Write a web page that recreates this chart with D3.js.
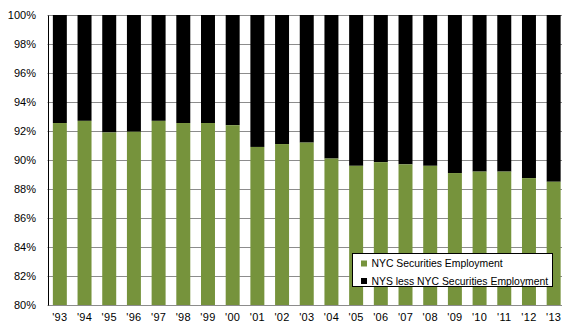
<!DOCTYPE html>
<html>
<head>
<meta charset="utf-8">
<script src="https://cdn.jsdelivr.net/npm/d3@7"></script>
<style>
  body { margin: 0; background: #fff; }
  svg { display: block; font-family: "Liberation Sans", Arial, sans-serif; }
</style>
</head>
<body>
<div id="chart"></div>
<script>
const years = ["'93","'94","'95","'96","'97","'98","'99","'00","'01","'02","'03","'04","'05","'06","'07","'08","'09","'10","'11","'12","'13"];
// NYC share of NYS securities employment, percent
const nycShare = [92.55, 92.7, 91.9, 91.95, 92.7, 92.55, 92.55, 92.4, 90.9, 91.1, 91.2, 90.1, 89.6, 89.85, 89.7, 89.6, 89.1, 89.2, 89.2, 88.75, 88.5];
const yTicks = [80, 82, 84, 86, 88, 90, 92, 94, 96, 98, 100];
const seriesNames = ['NYC Securities Employment', 'NYS less NYC Securities Employment'];
const seriesColors = ['#76933c', '#000000'];

const w = 562, h = 326;
const plotLeft = 47.5, plotRight = 566, plotTop = 15, plotBottom = 305;

const svg = d3.select('#chart').append('svg')
    .attr('width', w)
    .attr('height', h);

const xScale = d3.scaleBand()
    .domain(years)
    .range([plotLeft, plotRight])
    .paddingInner(0.434)
    .paddingOuter(0.217);

const yScale = d3.scaleLinear()
    .domain([80, 100])
    .range([plotBottom, plotTop]);

// gridlines
svg.append('g')
    .selectAll('line')
    .data(yTicks)
    .enter()
    .append('line')
    .attr('x1', plotLeft)
    .attr('x2', w)
    .attr('y1', d => Math.round(yScale(d)) + 0.5)
    .attr('y2', d => Math.round(yScale(d)) + 0.5)
    .attr('stroke', '#8c8c8c')
    .attr('stroke-width', 1);

// black part (rest of NYS) from top down to green
svg.append('g')
    .selectAll('rect')
    .data(years)
    .enter()
    .append('rect')
    .attr('x', d => xScale(d))
    .attr('y', yScale(100))
    .attr('width', xScale.bandwidth())
    .attr('height', (d, i) => yScale(nycShare[i]) - yScale(100))
    .attr('fill', seriesColors[1]);

svg.append('g')
    .selectAll('rect')
    .data(years)
    .enter()
    .append('rect')
    .attr('x', d => xScale(d))
    .attr('y', (d, i) => yScale(nycShare[i]))
    .attr('width', xScale.bandwidth())
    .attr('height', (d, i) => yScale(80) - yScale(nycShare[i]))
    .attr('fill', seriesColors[0]);

// left axis
const yAxis = d3.axisLeft(yScale)
    .tickValues(yTicks)
    .tickSize(0)
    .tickPadding(12)
    .tickFormat(d => d + '%');

svg.append('g')
    .attr('transform', 'translate(' + (plotLeft + 0.5) + ',0)')
    .call(yAxis)
    .call(g => g.select('.domain').attr('stroke', '#000'))
    .call(g => g.selectAll('text').attr('font-size', 11).attr('fill', '#000')
        .attr('font-family', '"Liberation Sans", Arial, sans-serif'));

// bottom axis labels
const xAxis = d3.axisBottom(xScale).tickSize(0).tickPadding(8);
svg.append('g')
    .attr('transform', 'translate(0,' + plotBottom + ')')
    .call(xAxis)
    .call(g => g.select('.domain').remove())
    .call(g => g.selectAll('text').attr('font-size', 11).attr('fill', '#000')
        .attr('letter-spacing', 0.3)
        .attr('font-family', '"Liberation Sans", Arial, sans-serif'));

// legend
const legend = svg.append('g').attr('transform', 'translate(352.5,253.5)');
legend.append('rect')
    .attr('width', 200)
    .attr('height', 33)
    .attr('fill', '#fff')
    .attr('stroke', '#000')
    .attr('stroke-width', 1);

const items = legend.selectAll('g.item')
    .data(seriesNames)
    .enter()
    .append('g')
    .attr('class', 'item')
    .attr('transform', (d, i) => 'translate(0,' + (10 + i * 17.5) + ')');

items.append('rect')
    .attr('x', 8.5)
    .attr('y', -3)
    .attr('width', 6)
    .attr('height', 6)
    .attr('fill', (d, i) => seriesColors[i]);

items.append('text')
    .attr('x', 19)
    .attr('y', 0)
    .attr('dy', '0.35em')
    .attr('font-size', 10.4)
    .attr('fill', '#000')
    .text(d => d);
</script>
</body>
</html>
